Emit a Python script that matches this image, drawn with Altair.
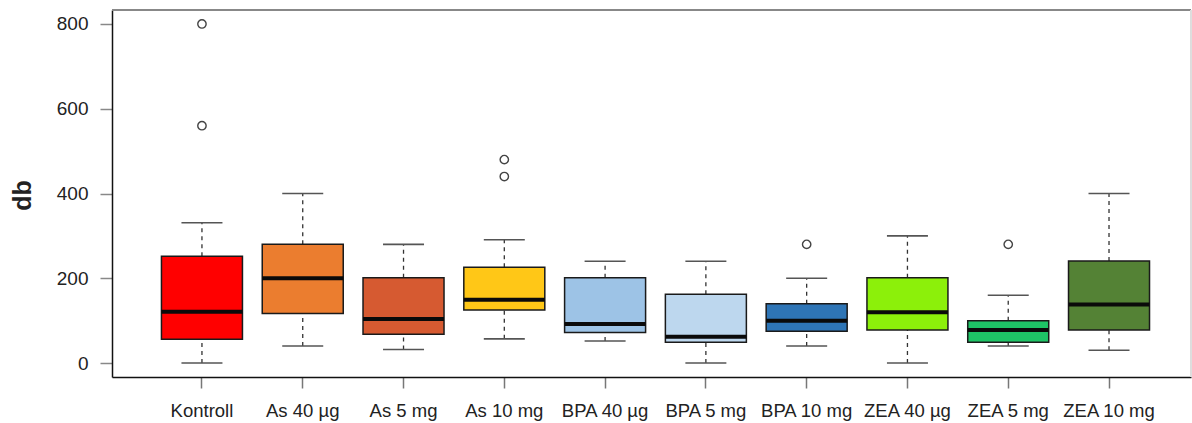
import altair as alt
import pandas as pd

groups = ["Kontroll", "As 40 µg", "As 5 mg", "As 10 mg", "BPA 40 µg",
          "BPA 5 mg", "BPA 10 mg", "ZEA 40 µg", "ZEA 5 mg", "ZEA 10 mg"]
lower = [0, 40, 32, 57, 52, 0, 40, 0, 40, 30]
q1 = [56, 117, 68, 125, 72, 49, 75, 78, 49, 78]
median = [121, 200, 104, 149, 92, 62, 100, 120, 78, 138]
q3 = [252, 280, 201, 226, 201, 162, 140, 201, 100, 241]
upper = [331, 400, 280, 291, 240, 240, 200, 300, 160, 400]

out_group = ["Kontroll", "Kontroll", "As 10 mg", "As 10 mg", "BPA 10 mg", "ZEA 5 mg"]
out_value = [800, 560, 480, 440, 280, 280]

fills = ["#FF0000", "#EB7D2F", "#D65A31", "#FFC717", "#9DC3E6",
         "#BDD7EE", "#2E75B6", "#8CF00A", "#1EC466", "#548235"]

W, H = 1079, 367
FONT = "Liberation Sans"

df = pd.DataFrame(dict(group=groups, lower=lower, q1=q1, median=median, q3=q3, upper=upper))
odf = pd.DataFrame(dict(group=out_group, value=out_value))

xscale = alt.Scale(domain=groups, paddingInner=0, paddingOuter=0.353, align=0.556)
xaxis = alt.Axis(labelAngle=0, labelFontSize=18.5, labelColor="#222", labelFont=FONT,
                 tickSize=11, tickColor="#777", tickWidth=1.5, domainColor="#111",
                 domainWidth=1.5, labelPadding=13, grid=False)
X = alt.X("group:N", sort=groups, scale=xscale, axis=xaxis, title=None)

yscale = alt.Scale(domain=[-33, 833], nice=False, zero=False)
yaxis = alt.Axis(values=[0, 200, 400, 600, 800], labelFontSize=19, labelColor="#222",
                 labelFont=FONT, tickSize=12, tickColor="#888", tickWidth=1.5,
                 domainColor="#111", domainWidth=1.5, labelPadding=12, grid=False,
                 titleFontSize=25, titleFontWeight="bold", titleColor="#222",
                 titleFont=FONT, titleX=-90, titleY=185, titleBaseline="middle")

base = alt.Chart(df)

whisk_up = base.mark_rule(strokeDash=[4, 4], color="#333", strokeWidth=1.3).encode(
    x=X, y=alt.Y("q3:Q", scale=yscale, axis=yaxis, title="db"), y2="upper:Q")
whisk_lo = base.mark_rule(strokeDash=[4, 4], color="#333", strokeWidth=1.3).encode(
    x=X, y=alt.Y("lower:Q", scale=yscale), y2="q1:Q")
cap_up = base.mark_tick(orient="horizontal", size=41, thickness=1.6, color="#555", opacity=1).encode(
    x=X, y=alt.Y("upper:Q", scale=yscale))
cap_lo = base.mark_tick(orient="horizontal", size=41, thickness=1.6, color="#555", opacity=1).encode(
    x=X, y=alt.Y("lower:Q", scale=yscale))
box = base.mark_bar(size=81, stroke="#1a1a1a", strokeWidth=1.5, opacity=1).encode(
    x=X, y=alt.Y("q1:Q", scale=yscale), y2="q3:Q",
    color=alt.Color("group:N", scale=alt.Scale(domain=groups, range=fills), legend=None))
med = base.mark_tick(orient="horizontal", size=81, thickness=4, color="#0a0a0a", opacity=1).encode(
    x=X, y=alt.Y("median:Q", scale=yscale))
outl = alt.Chart(odf).mark_point(shape="circle", filled=False, size=70, color="#444",
                                 strokeWidth=1.4, opacity=1).encode(
    x=X, y=alt.Y("value:Q", scale=yscale))

top_border = base.mark_rule(color="#888", strokeWidth=2).encode(
    x=alt.value(0), x2=alt.value(W), y=alt.value(0))
right_border = base.mark_rule(color="#ddd", strokeWidth=1).encode(
    x=alt.value(W), y=alt.value(0), y2=alt.value(H))

chart = alt.layer(whisk_up, whisk_lo, cap_up, cap_lo, box, med, outl, top_border, right_border).properties(
    width=W, height=H,
    padding={"left": 112, "top": 10, "right": 1, "bottom": 46},
    autosize=alt.AutoSizeParams(type="none"),
    background="white",
).configure_view(stroke=None)

chart.save("out.html", embed_options={"renderer": "svg", "actions": False})
